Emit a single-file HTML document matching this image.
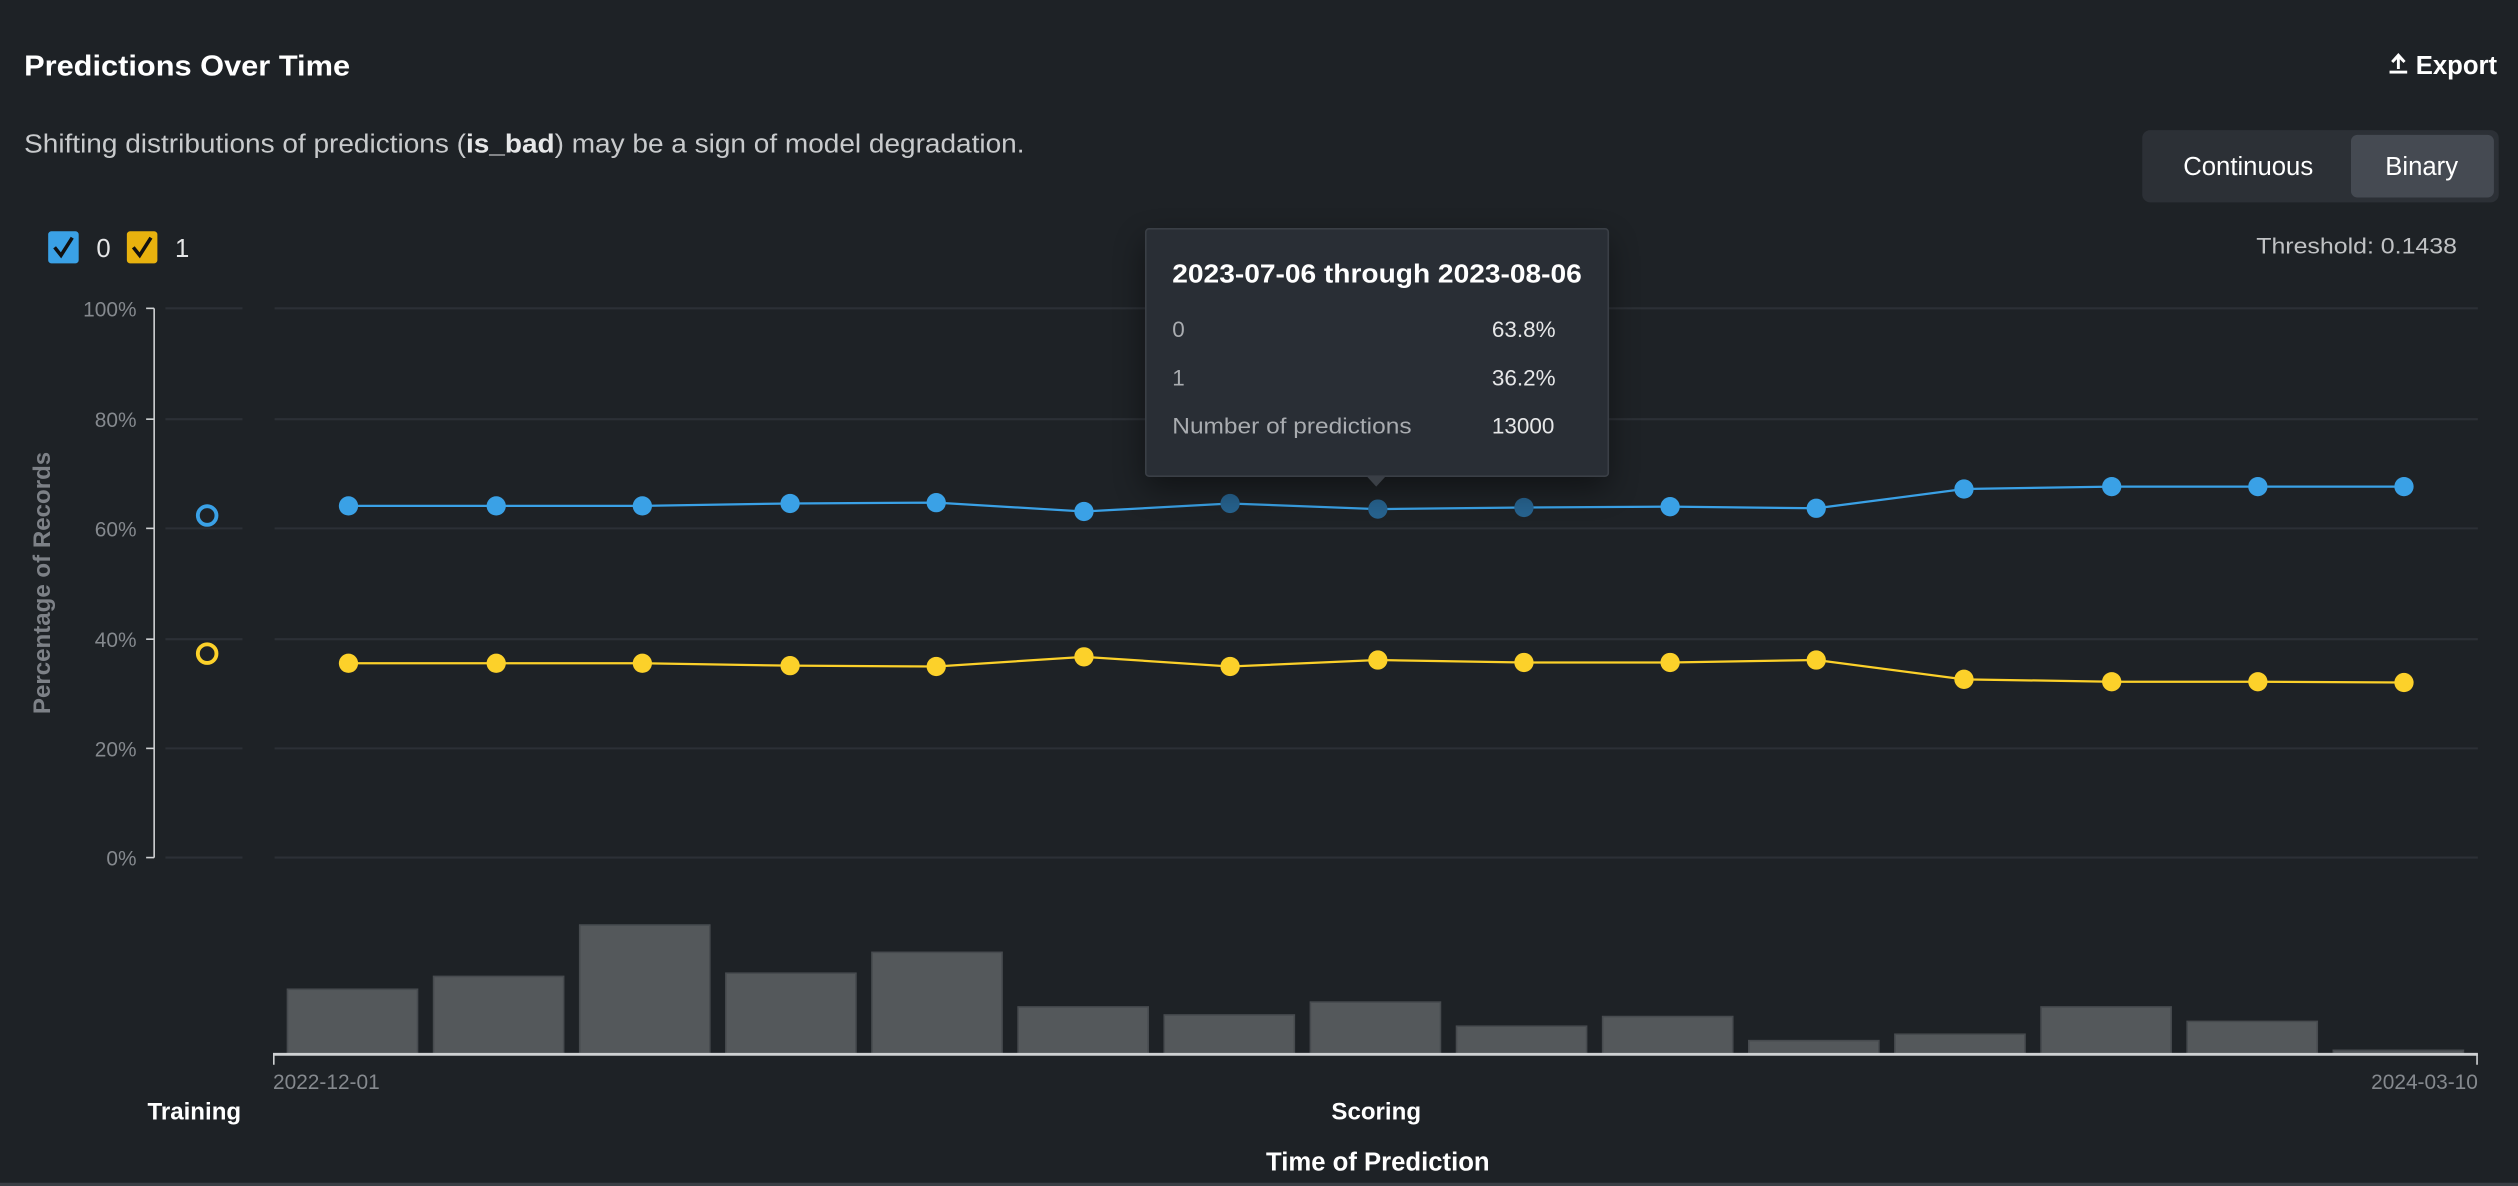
<!DOCTYPE html>
<html><head><meta charset="utf-8"><style>
html,body{margin:0;padding:0;background:#1e2226;}
svg{display:block;}
text{font-family:"Liberation Sans",sans-serif;}
</style></head><body>
<svg width="2518" height="1186" viewBox="0 0 1568 738.5" preserveAspectRatio="none" xmlns="http://www.w3.org/2000/svg">
<defs>
<filter id="sh" x="-30%" y="-30%" width="160%" height="170%"><feGaussianBlur stdDeviation="10"/></filter>
</defs>
<rect width="1568" height="738.5" fill="#1e2226"/>
<line x1="0" y1="737.5" x2="1568" y2="737.5" stroke="#3a3e44" stroke-width="2"/>
<text x="15" y="47" font-size="18" font-weight="bold" fill="#ffffff" textLength="203" lengthAdjust="spacingAndGlyphs">Predictions Over Time</text>
<g fill="#ffffff"><rect x="1488" y="44" width="11" height="1.8"/><path d="M1493.5 33 L1489 38 L1490.3 39.2 L1492.6 36.9 L1492.6 43 L1494.4 43 L1494.4 36.9 L1496.7 39.2 L1498 38 Z"/></g>
<text x="1555" y="46" font-size="16" font-weight="bold" fill="#ffffff" text-anchor="end">Export</text>
<text x="15" y="95" font-size="16" fill="#c8cacc" textLength="623" lengthAdjust="spacingAndGlyphs">Shifting distributions of predictions (<tspan font-weight="bold" fill="#e6e7e8">is_bad</tspan>) may be a sign of model degradation.</text>
<rect x="1334" y="81" width="222" height="45" rx="5" fill="#2c3036"/>
<rect x="1464" y="84" width="89" height="39" rx="4" fill="#454a52"/>
<text x="1400" y="109" font-size="16" fill="#ffffff" text-anchor="middle">Continuous</text>
<text x="1508" y="109" font-size="16" fill="#ffffff" text-anchor="middle">Binary</text>
<rect x="30" y="144" width="19" height="20" rx="2" fill="#3aa1e6"/>
<path d="M34 154 L38 159 L45 148" stroke="#111" stroke-width="2.2" fill="none"/>
<text x="60" y="160" font-size="16" fill="#e6e7e8">0</text>
<rect x="79" y="144" width="19" height="20" rx="2" fill="#e8b20e"/>
<path d="M83 154 L87 159 L94 148" stroke="#111" stroke-width="2.2" fill="none"/>
<text x="109" y="160" font-size="16" fill="#e6e7e8">1</text>
<text x="1405" y="158" font-size="14" fill="#c0c2c4" textLength="125" lengthAdjust="spacingAndGlyphs">Threshold: 0.1438</text>
<g stroke="#2c3036" stroke-width="1.3">
<line x1="103" y1="192" x2="151" y2="192"/><line x1="171" y1="192" x2="1543" y2="192"/>
<line x1="103" y1="261" x2="151" y2="261"/><line x1="171" y1="261" x2="1543" y2="261"/>
<line x1="103" y1="329" x2="151" y2="329"/><line x1="171" y1="329" x2="1543" y2="329"/>
<line x1="103" y1="398" x2="151" y2="398"/><line x1="171" y1="398" x2="1543" y2="398"/>
<line x1="103" y1="466" x2="151" y2="466"/><line x1="171" y1="466" x2="1543" y2="466"/>
<line x1="103" y1="534" x2="151" y2="534"/><line x1="171" y1="534" x2="1543" y2="534"/>
</g>
<g stroke="#cfd1d3" stroke-width="1">
<line x1="96" y1="192" x2="96" y2="534"/>
<line x1="91" y1="192" x2="96" y2="192"/><line x1="91" y1="261" x2="96" y2="261"/><line x1="91" y1="329" x2="96" y2="329"/><line x1="91" y1="398" x2="96" y2="398"/><line x1="91" y1="466" x2="96" y2="466"/><line x1="91" y1="534" x2="96" y2="534"/>
</g>
<g font-size="13" fill="#85898e" text-anchor="end">
<text x="85" y="197">100%</text><text x="85" y="266">80%</text><text x="85" y="334">60%</text><text x="85" y="403">40%</text><text x="85" y="471">20%</text><text x="85" y="539">0%</text>
</g>
<text transform="translate(31,363) rotate(-90)" font-size="15" font-weight="bold" fill="#7d8187" text-anchor="middle">Percentage of Records</text>
<circle cx="129" cy="321" r="5.8" fill="none" stroke="#3aa1e6" stroke-width="2.4"/>
<circle cx="129" cy="407" r="5.8" fill="none" stroke="#fcd12a" stroke-width="2.4"/>
<polyline fill="none" stroke="#3aa1e6" stroke-width="1.4" points="217,315 309,315 400,315 492,313.5 583,313 675,318.5 766,313.5 858,317 949,316 1040,315.5 1131,316.5 1223,304.5 1315,303 1406,303 1497,303"/>
<polyline fill="none" stroke="#fcd12a" stroke-width="1.4" points="217,413 309,413 400,413 492,414.5 583,415 675,409 766,415 858,411 949,412.5 1040,412.5 1131,411 1223,423 1315,424.5 1406,424.5 1497,425"/>
<g fill="#3aa1e6">
<circle cx="217" cy="315" r="6"/><circle cx="309" cy="315" r="6"/><circle cx="400" cy="315" r="6"/><circle cx="492" cy="313.5" r="6"/><circle cx="583" cy="313" r="6"/><circle cx="675" cy="318.5" r="6"/><circle cx="1040" cy="315.5" r="6"/><circle cx="1131" cy="316.5" r="6"/><circle cx="1223" cy="304.5" r="6"/><circle cx="1315" cy="303" r="6"/><circle cx="1406" cy="303" r="6"/><circle cx="1497" cy="303" r="6"/>
</g>
<g fill="#27638f"><circle cx="766" cy="313.5" r="6"/><circle cx="858" cy="317" r="6"/><circle cx="949" cy="316" r="6"/></g>
<g fill="#fcd12a">
<circle cx="217" cy="413" r="6"/><circle cx="309" cy="413" r="6"/><circle cx="400" cy="413" r="6"/><circle cx="492" cy="414.5" r="6"/><circle cx="583" cy="415" r="6"/><circle cx="675" cy="409" r="6"/><circle cx="766" cy="415" r="6"/><circle cx="858" cy="411" r="6"/><circle cx="949" cy="412.5" r="6"/><circle cx="1040" cy="412.5" r="6"/><circle cx="1131" cy="411" r="6"/><circle cx="1223" cy="423" r="6"/><circle cx="1315" cy="424.5" r="6"/><circle cx="1406" cy="424.5" r="6"/><circle cx="1497" cy="425" r="6"/>
</g>
<g fill="#54585b" stroke="#474b4f" stroke-width="1">
<rect x="179" y="616" width="81" height="40"/><rect x="270" y="608" width="81" height="48"/><rect x="361" y="576" width="81" height="80"/><rect x="452" y="606" width="81" height="50"/><rect x="543" y="593" width="81" height="63"/><rect x="634" y="627" width="81" height="29"/><rect x="725" y="632" width="81" height="24"/><rect x="816" y="624" width="81" height="32"/><rect x="907" y="639" width="81" height="17"/><rect x="998" y="633" width="81" height="23"/><rect x="1089" y="648" width="81" height="8"/><rect x="1180" y="644" width="81" height="12"/><rect x="1271" y="627" width="81" height="29"/><rect x="1362" y="636" width="81" height="20"/><rect x="1453" y="654" width="81" height="2"/>
</g>
<g stroke="#cfd1d3"><line x1="170" y1="656.5" x2="1543" y2="656.5" stroke-width="1.8"/><line x1="170.5" y1="656" x2="170.5" y2="663"/><line x1="1542.5" y1="656" x2="1542.5" y2="663"/></g>
<text x="170" y="678" font-size="13" fill="#85898e">2022-12-01</text>
<text x="1543" y="678" font-size="13" fill="#85898e" text-anchor="end">2024-03-10</text>
<text x="121" y="697" font-size="15" font-weight="bold" fill="#ffffff" text-anchor="middle">Training</text>
<text x="857" y="697" font-size="15" font-weight="bold" fill="#ffffff" text-anchor="middle">Scoring</text>
<text x="858" y="729" font-size="16" font-weight="bold" fill="#ffffff" text-anchor="middle">Time of Prediction</text>
<rect x="713" y="150" width="288" height="154" fill="#000" opacity="0.45" filter="url(#sh)"/>
<rect x="713.5" y="142.5" width="288" height="154" rx="2" fill="#292e35" stroke="#3a3f46"/>
<path d="M851 296.5 L857 303 L863 296.5 Z" fill="#3a3f46"/>
<text x="730" y="176" font-size="16" font-weight="bold" fill="#ffffff" textLength="255" lengthAdjust="spacingAndGlyphs">2023-07-06 through 2023-08-06</text>
<text x="730" y="210" font-size="14" fill="#a9acb0">0</text><text x="929" y="210" font-size="14" fill="#e6e7e8">63.8%</text>
<text x="730" y="240" font-size="14" fill="#a9acb0">1</text><text x="929" y="240" font-size="14" fill="#e6e7e8">36.2%</text>
<text x="730" y="270" font-size="14" fill="#a9acb0" textLength="149" lengthAdjust="spacingAndGlyphs">Number of predictions</text><text x="929" y="270" font-size="14" fill="#e6e7e8">13000</text>
</svg>
</body></html>
